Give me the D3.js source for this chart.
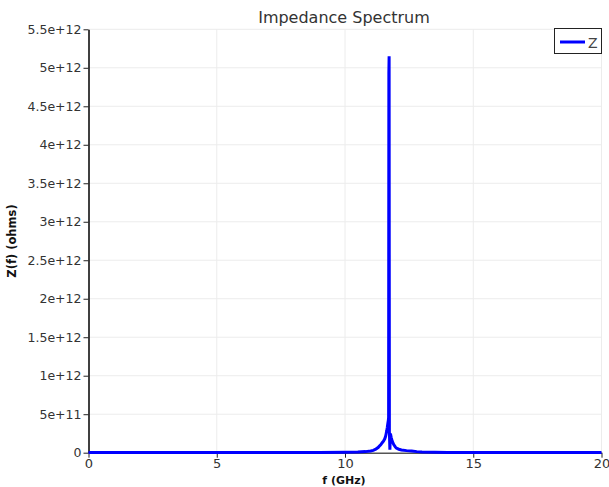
<!DOCTYPE html>
<html><head><meta charset="utf-8">
<script src="https://cdn.jsdelivr.net/npm/d3@7"></script>
<style>body{margin:0;background:#fff}svg{display:block}text{font-family:"DejaVu Sans",sans-serif}</style>
</head><body>
<svg id="c" width="609" height="487"></svg>
<script>
const title = "Impedance Spectrum";
const xLabel = "f (GHz)";
const yLabel = "Z(f) (ohms)";
const seriesName = "Z";
const xTicks = [0, 5, 10, 15, 20];
const yTicks = [0, 5e11, 1e12, 1.5e12, 2e12, 2.5e12, 3e12, 3.5e12, 4e12, 4.5e12, 5e12, 5.5e12];
const yTickLabels = ["0","5e+11","1e+12","1.5e+12","2e+12","2.5e+12","3e+12","3.5e+12","4e+12","4.5e+12","5e+12","5.5e+12"];
const freq = [0, 1, 2, 3, 4, 5, 6, 7, 8, 9, 10, 10.5, 10.8, 11.0, 11.1, 11.2, 11.3, 11.35, 11.4, 11.45, 11.5, 11.55, 11.58, 11.6, 11.63, 11.65, 11.67, 11.69, 11.70, 11.71, 11.72, 11.73, 11.75, 11.77, 11.8, 11.84, 11.9, 11.96, 12.0, 12.1, 12.2, 12.4, 12.6, 12.8, 13, 14, 15, 16, 17, 18, 19, 20];
const zVals = [1e9, 1e9, 1e9, 1e9, 1.5e9, 1.5e9, 2e9, 2e9, 3e9, 4e9, 6e9, 9e9, 1.4e10, 2.2e10, 3e10, 4.5e10, 7e10, 9e10, 1.05e11, 1.3e11, 1.5e11, 1.8e11, 2.1e11, 2.4e11, 2.9e11, 3.3e11, 3.8e11, 4.2e11, 4.6e11, 4.93e12, 5.15e12, 2.7e11, 4e10, 2.5e11, 2.0e11, 1.5e11, 1.05e11, 7.5e10, 6e10, 4.5e10, 3.5e10, 2.7e10, 2.1e10, 1.4e10, 9e9, 4e9, 3e9, 2e9, 2e9, 1.5e9, 1.5e9, 1e9];

const svg = d3.select("#c");
const x = d3.scaleLinear().domain([0, 20]).range([88.5, 601.5]);
const y = d3.scaleLinear().domain([0, 5.5e12]).range([452.7, 29.3]);

// grid
svg.append("g").selectAll("line").data(xTicks.slice(1)).join("line")
  .attr("x1", d => x(d)).attr("x2", d => x(d)).attr("y1", y(0)).attr("y2", y(5.5e12))
  .attr("stroke", "#ececec").attr("stroke-width", 1);
svg.append("g").selectAll("line").data(yTicks.slice(1)).join("line")
  .attr("x1", x(0)).attr("x2", x(20)).attr("y1", d => y(d)).attr("y2", d => y(d))
  .attr("stroke", "#ececec").attr("stroke-width", 1);

// axes
const xAxis = d3.axisBottom(x).tickValues(xTicks).tickFormat(d3.format("d")).tickSize(5).tickSizeOuter(0);
const gx = svg.append("g").attr("transform", `translate(0,${y(0)})`).call(xAxis);
gx.select(".domain").attr("stroke", "#555").attr("stroke-width", 1.5);
gx.selectAll(".tick line").attr("stroke", "#222");
gx.selectAll(".tick text").attr("font-size", 13).attr("fill", "#333").attr("dy", "0.55em");

const yAxis = d3.axisLeft(y).tickValues(yTicks).tickFormat((d, i) => yTickLabels[i]).tickSize(5).tickSizeOuter(0);
const gy = svg.append("g").attr("transform", `translate(${x(0)},0)`).call(yAxis);
gy.select(".domain").attr("stroke", "#000").attr("stroke-width", 1.5);
gy.selectAll(".tick line").attr("stroke", "#222");
gy.selectAll(".tick text").attr("font-size", 12.5).attr("fill", "#333").attr("x", -7);

// line
const data = freq.map((f, i) => [f, zVals[i]]);
svg.append("path").datum(data)
  .attr("fill", "none").attr("stroke", "#0000ff").attr("stroke-width", 3)
  .attr("stroke-linejoin", "miter")
  .attr("d", d3.line().x(d => x(d[0])).y(d => y(d[1])));

// title & labels
svg.append("text").attr("x", 344).attr("y", 23).attr("text-anchor", "middle")
  .attr("font-size", 16).attr("fill", "#333").text(title);
svg.append("text").attr("x", 344).attr("y", 484).attr("text-anchor", "middle")
  .attr("font-size", 11).attr("font-weight", "bold").attr("fill", "#111").text(xLabel);
svg.append("text").attr("transform", "translate(16,241) rotate(-90)").attr("text-anchor", "middle")
  .attr("font-size", 11.5).attr("font-weight", "bold").attr("fill", "#111").text(yLabel);

// legend
const lg = svg.append("g");
lg.append("rect").attr("x", 554.5).attr("y", 28.5).attr("width", 47).attr("height", 25)
  .attr("fill", "#fff").attr("stroke", "#222").attr("stroke-width", 1);
lg.append("line").attr("x1", 560).attr("x2", 585).attr("y1", 42).attr("y2", 42)
  .attr("stroke", "#0000ff").attr("stroke-width", 3);
lg.append("text").attr("x", 588).attr("y", 47.5).attr("font-size", 14).attr("fill", "#444").text(seriesName);
</script>
</body></html>
